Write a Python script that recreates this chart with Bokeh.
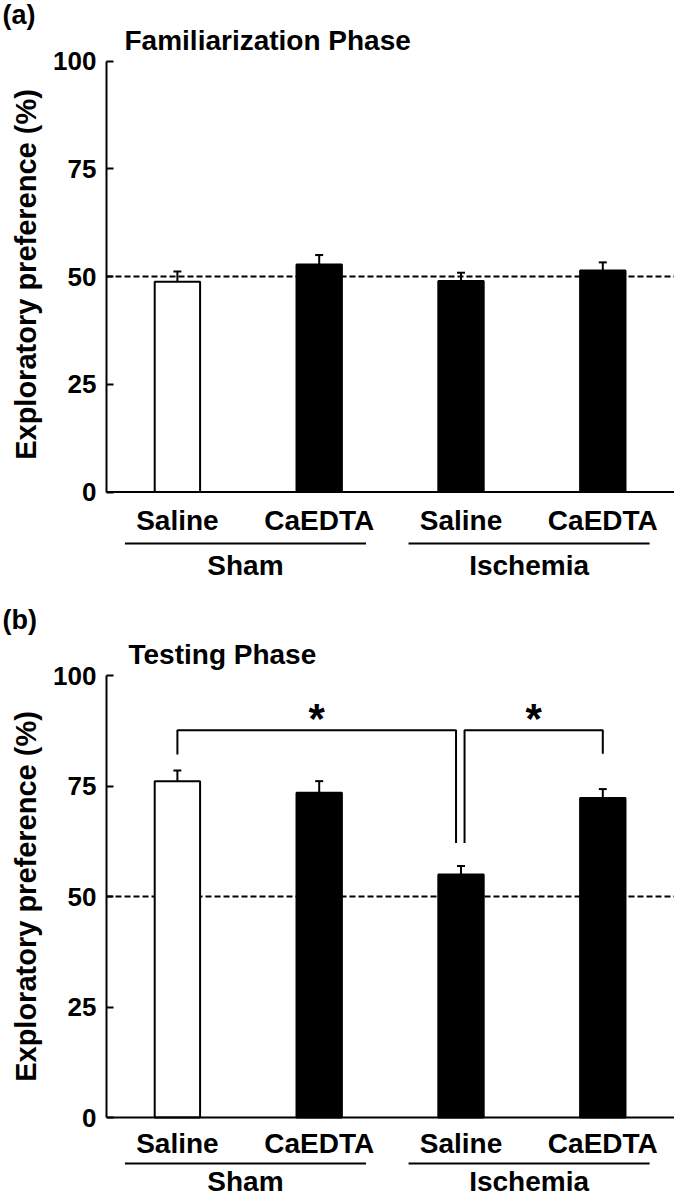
import math
from bokeh.plotting import figure
from bokeh.models import Range1d, LinearAxis, FixedTicker, Span, Whisker, TeeHead, ColumnDataSource
from bokeh.layouts import column, row
from bokeh.embed import file_html
from bokeh.resources import INLINE
from bokeh.core.properties import value

FONT = "Liberation Sans"

# ---------------- data ----------------
categories = ["Saline", "CaEDTA", "Saline", "CaEDTA"]
groups = ["Sham", "Ischemia"]
group_first = [0, 2]
group_last = [1, 3]
bar_fills = ["white", "black", "black", "black"]
y_ticks = [0, 25, 50, 75, 100]
y_label = "Exploratory preference (%)"
chance_level = 50

fam_mean = [48.8, 52.8, 49.0, 51.4]
fam_sem = [2.4, 2.2, 1.9, 1.9]

test_mean = [76.1, 73.5, 55.0, 72.3]
test_sem = [2.4, 2.6, 1.9, 2.0]

# significance brackets (testing phase)
sig_from = [0, 3]
sig_to = [2, 2]
sig_top = [87.6, 87.6]
sig_from_end = [82.1, 82.3]
sig_to_end = [62.1, 62.1]
sig_text = ["*", "*"]

# ---------------- layout constants ----------------
LAB_W = 45
MAIN_W = 629
FRAME_LEFT = 106            # page x of the y axis
PX_PER_X = 141.8
TXT = "28px"


def label_strip(tag, H, tag_base, ylab_center):
    s = figure(width=LAB_W, height=H, x_axis_type=None, y_axis_type=None,
               toolbar_location=None, output_backend="svg",
               x_range=Range1d(0, LAB_W), y_range=Range1d(0, H),
               min_border_left=0, min_border_right=0, min_border_top=0, min_border_bottom=0)
    s.outline_line_color = None
    s.text(x=[2], y=[H - tag_base], text=[tag], text_align="left", text_baseline="alphabetic",
           text_font=value(FONT), text_font_style="bold", text_font_size="27px",
           text_color="black")
    s.text(x=[25], y=[H - ylab_center], text=[y_label], angle=math.pi / 2,
           text_align="center", text_baseline="middle", text_font=value(FONT),
           text_font_style="bold", text_font_size="29px", text_color="black")
    return s


def make_panel(title, means, sems, H, y100, y0, cat_px, line_px, grp_px,
               title_base, title_x, brackets=False):
    ppu = (y0 - y100) / 100.0
    ylo = -(H - y0) / ppu
    yhi = 100 + y100 / ppu
    left_border = FRAME_LEFT - LAB_W
    p = figure(width=MAIN_W, height=H, x_axis_type=None, y_axis_type=None,
               toolbar_location=None, output_backend="svg",
               x_range=Range1d(0, (MAIN_W - left_border) / PX_PER_X), y_range=Range1d(ylo, yhi),
               min_border_left=left_border, min_border_right=0, min_border_top=0,
               min_border_bottom=0)
    p.outline_line_color = None

    yax = LinearAxis(ticker=FixedTicker(ticks=y_ticks), bounds=(0, 100))
    yax.axis_line_width = 2
    yax.axis_line_color = "black"
    yax.major_tick_line_width = 2
    yax.major_tick_line_color = "black"
    yax.major_tick_in = 7
    yax.major_tick_out = 0
    yax.minor_tick_line_color = None
    yax.major_label_text_font = FONT
    yax.major_label_text_font_style = "bold"
    yax.major_label_text_font_size = "26px"
    yax.major_label_text_color = "black"
    yax.major_label_standoff = 10
    p.add_layout(yax, "left")

    # x axis line and chance line
    p.add_layout(Span(location=0, dimension="width", line_color="black", line_width=2))
    p.add_layout(Span(location=chance_level, dimension="width", line_color="black",
                      line_width=2, line_dash="6 3", level="underlay"))

    xs = [i + 0.5 for i in range(len(categories))]
    src = ColumnDataSource(dict(x=xs, top=means, upper=[m + s for m, s in zip(means, sems)],
                                fill=bar_fills))
    p.vbar(x="x", top="top", bottom=0, width=0.32, fill_color="fill", line_color="black",
           line_width=2, source=src)
    p.add_layout(Whisker(base="x", lower="top", upper="upper", source=src, lower_head=None,
                         upper_head=TeeHead(size=8, line_width=2, line_color="black"),
                         line_width=2, line_color="black"))

    # category labels
    p.text(x=xs, y=[-cat_px / ppu] * len(xs), text=categories, text_align="center",
           text_baseline="middle", text_font=value(FONT), text_font_style="bold",
           text_font_size=TXT, text_color="black")
    # group lines + labels
    gx0 = [group_first[g] + 0.13 for g in range(len(groups))]
    gx1 = [group_last[g] + 1 - 0.17 for g in range(len(groups))]
    gy = -line_px / ppu
    p.segment(x0=gx0, y0=[gy] * len(groups), x1=gx1, y1=[gy] * len(groups),
              line_color="black", line_width=2)
    gcx = [(a + b) / 2 for a, b in zip(gx0, gx1)]
    p.text(x=gcx, y=[-grp_px / ppu] * len(groups), text=groups, text_align="center",
           text_baseline="middle", text_font=value(FONT), text_font_style="bold",
           text_font_size=TXT, text_color="black")

    if brackets:
        bxs, bys, sx, sy = [], [], [], []
        for a, b, top, ea, eb in zip(sig_from, sig_to, sig_top, sig_from_end, sig_to_end):
            xa = xs[a]
            xb = xs[b] + (-0.035 if b > a else 0.025)
            bxs.append([xa, xa, xb, xb])
            bys.append([ea, top, top, eb])
            sx.append((xa + xb) / 2)
            sy.append(top + 12 / ppu)
        p.multi_line(xs=bxs, ys=bys, line_color="black", line_width=2)
        p.text(x=sx, y=sy, text=sig_text, text_align="center", text_baseline="alphabetic",
               text_font=value(FONT), text_font_style="bold", text_font_size="42px",
               text_color="black")

    # panel title
    p.text(x=[(title_x - FRAME_LEFT) / PX_PER_X], y=[100 + (y100 - title_base) / ppu],
           text=[title], text_align="left", text_baseline="alphabetic",
           text_font=value(FONT), text_font_style="bold", text_font_size=TXT,
           text_color="black")
    return p


HA, HB = 600, 599
labA = label_strip("(a)", HA, tag_base=14, ylab_center=274)
pA = make_panel("Familiarization Phase", fam_mean, fam_sem, H=HA, y100=60.7, y0=491.5,
                cat_px=28, line_px=51.5, grp_px=73.5, title_base=40, title_x=124)
labB = label_strip("(b)", HB, tag_base=19, ylab_center=296)
pB = make_panel("Testing Phase", test_mean, test_sem, H=HB, y100=75, y0=517,
                cat_px=26, line_px=46, grp_px=64, title_base=54, title_x=128,
                brackets=True)

layout = column(row(labA, pA, spacing=0), row(labB, pB, spacing=0), spacing=0)
open("out.html", "w").write(file_html(layout, INLINE))
